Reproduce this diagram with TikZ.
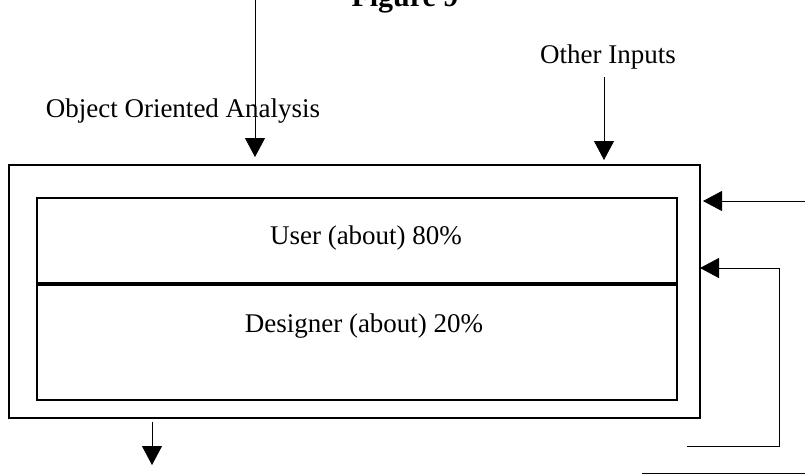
\documentclass[tikz,border=0pt]{standalone}
\usepackage{fontspec}
\setmainfont{Liberation Serif}
\usetikzlibrary{arrows.meta, positioning}
\tikzset{
    outerbox/.style={rectangle, draw=black, line width=2.2pt, minimum width=691pt, minimum height=253pt, inner sep=0pt, anchor=north west},
    partbox/.style={rectangle, draw=black, line width=1.8pt, minimum width=640pt, inner sep=0pt, anchor=north west},
    txt/.style={anchor=base, inner sep=0pt},
    arrow/.style={line width=0.8pt, -{Triangle[width=20pt,length=19pt]}},
    wire/.style={line width=0.8pt}
}

\begin{document}
\begin{tikzpicture}[x=1pt, y=-1pt, font=\fontsize{27}{32}\selectfont]
    \useasboundingbox (0,0) rectangle (805,475);

    \node (title) [txt, font=\fontsize{30}{36}\selectfont\bfseries] at (405,6) {Figure 9};

    % boxes
    \node (outer) [outerbox] at (8,164) {};
    \node (user) [partbox, minimum height=85pt] at (36,197) {};
    \node (designer) [partbox, minimum height=115pt, anchor=north] at (user.south) {};

    \node (userlbl) [txt] at (366,244) {User (about) 80\%};
    \node (designerlbl) [txt] at (364,332) {Designer (about) 20\%};
    \node (ooa) [txt] at (183,117) {Object Oriented Analysis};
    \node (other) [txt] at (608,63) {Other Inputs};

    % connector ends
    \coordinate (ooatop) at (255,0);
    \coordinate (ooatip) at (255,157);
    \coordinate (othertop) at (604,77);
    \coordinate (othertip) at (604,160);
    \coordinate (inright) at (805,201);
    \coordinate (intip) at (703,201);
    \coordinate (fbend) at (687,446);
    \coordinate (fbtop) at (779,268);
    \coordinate (fbtip) at (700,268);
    \coordinate (outtop) at (152,422);
    \coordinate (outtip) at (152,465);
    \coordinate (baseleft) at (642,473);
    \coordinate (baseright) at (805,473);

    \draw [arrow] (ooatop) -- (ooatip);
    \draw [arrow] (othertop) -- (othertip);
    \draw [arrow] (inright) -- (intip);
    \draw [arrow] (fbend) -| (fbtop) -- (fbtip);
    \draw [arrow] (outtop) -- (outtip);
    \draw [wire] (baseleft) -- (baseright);

\end{tikzpicture}
\end{document}
